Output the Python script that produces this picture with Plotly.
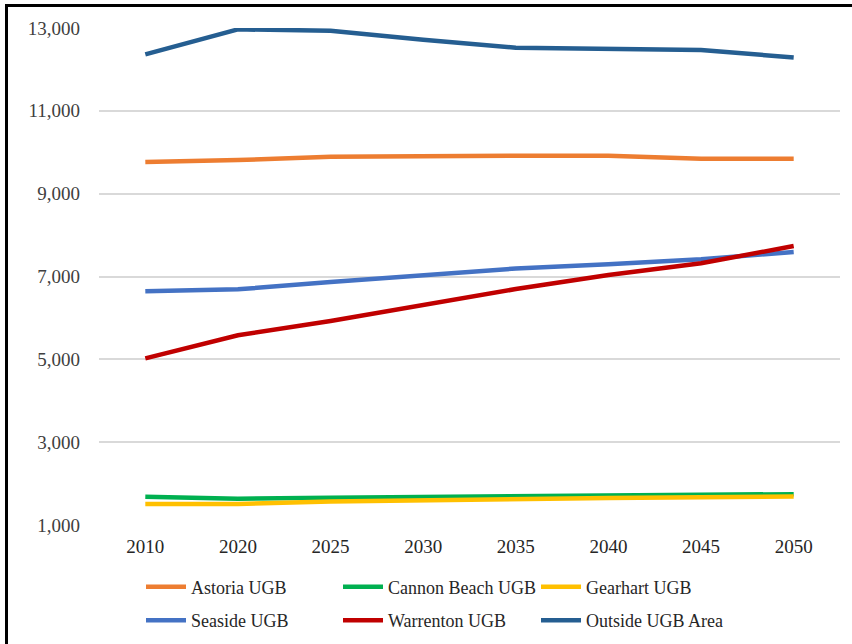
import plotly.graph_objects as go

years = ["2010", "2020", "2025", "2030", "2035", "2040", "2045", "2050"]

astoria = [9764, 9812, 9892, 9916, 9916, 9916, 9844, 9844]
cannon_beach = [1683, 1635, 1660, 1680, 1700, 1710, 1720, 1745]
gearhart = [1507, 1507, 1567, 1600, 1625, 1650, 1670, 1690]
seaside = [6642, 6690, 6867, 7036, 7193, 7294, 7415, 7591]
warrenton = [5024, 5580, 5925, 6311, 6698, 7036, 7318, 7736]
outside = [12364, 12967, 12934, 12715, 12524, 12485, 12468, 12290]

series = [
    ("Astoria UGB", astoria, "#ED7D31", "legend"),
    ("Cannon Beach UGB", cannon_beach, "#00B050", "legend3"),
    ("Gearhart UGB", gearhart, "#FFC000", "legend5"),
    ("Seaside UGB", seaside, "#4472C4", "legend2"),
    ("Warrenton UGB", warrenton, "#C00000", "legend4"),
    ("Outside UGB Area", outside, "#255E91", "legend6"),
]

FONT = "Liberation Serif, Times New Roman, serif"

fig = go.Figure()
for name, vals, color, lg in series:
    fig.add_trace(go.Scatter(
        x=years, y=vals, name=name, mode="lines",
        line=dict(color=color, width=4.5),
        legend=lg,
    ))

L, R, T, B = 99, 12, 28, 119
W, H = 852, 644
pw, ph = W - L - R, H - T - B

def px_x(p):
    return (p - L) / pw

def px_y(p):
    return (H - B - p) / ph

col_x = [141, 338, 536]
row_y = [587, 620.5]
legend_defs = {}
names = ["legend", "legend2", "legend3", "legend4", "legend5", "legend6"]
i = 0
for c in col_x:
    for r in row_y:
        legend_defs[names[i]] = dict(
            x=c / W, y=1 - r / H, xanchor="left", yanchor="middle",
            xref="container", yref="container",
            font=dict(family=FONT, size=18, color="#262626"),
            bgcolor="rgba(0,0,0,0)", borderwidth=0,
            itemwidth=40,
        )
        i += 1

fig.update_layout(
    width=W, height=H,
    margin=dict(l=L, r=R, t=T, b=B, autoexpand=False),
    paper_bgcolor="white", plot_bgcolor="white",
    font=dict(family=FONT, size=19, color="#404040"),
    showlegend=True,
    xaxis=dict(
        type="category", range=[-0.5, 7.5],
        showgrid=False, showline=False, zeroline=False,
        ticks="", tickfont=dict(family=FONT, size=19, color="#262626"),
        ticklabelstandoff=8,
    ),
    yaxis=dict(
        range=[1000, 13000], tickvals=[1000, 3000, 5000, 7000, 9000, 11000, 13000],
        tickformat=",d", showgrid=True, gridcolor="#D9D9D9", gridwidth=1.5,
        zeroline=False, showline=False, ticks="",
        tickfont=dict(family=FONT, size=19, color="#404040"),
        ticklabelstandoff=18,
    ),
    shapes=[dict(
        type="rect", xref="paper", yref="paper",
        x0=px_x(6.5), x1=px_x(1000), y0=px_y(1000), y1=px_y(5.5),
        line=dict(color="black", width=3), fillcolor="rgba(0,0,0,0)",
        layer="above",
    )],
    **legend_defs,
)

fig.write_html(
    "out.html",
    config={"displayModeBar": False},
    post_script="document.body.style.margin='0';document.body.style.overflow='hidden';",
)
